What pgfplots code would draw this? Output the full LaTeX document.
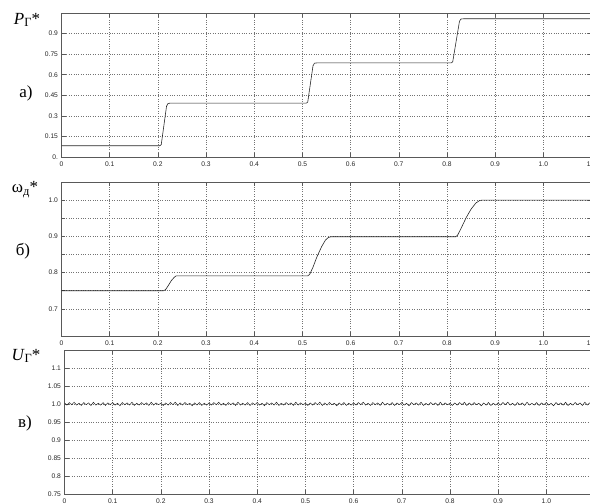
\documentclass[border=0pt]{standalone}
\usepackage{fontspec}
\setmainfont{Liberation Serif}
\newfontfamily\tickfont{Liberation Sans}
\usepackage{pgfplots}
\pgfplotsset{compat=1.18}

\pgfplotsset{mlab/.style={
  scale only axis, width=530pt,
  xmin=0, xmax=1.1,
  xtick={0,0.1,...,1.1},
  xticklabels={0,0.1,0.2,0.3,0.4,0.5,0.6,0.7,0.8,0.9,1.0,1.1},
  tick pos=both, tick align=inside, major tick length=4pt,
  axis line style={black!65, line width=0.6pt},
  tick style={black!65, line width=0.5pt},
  grid=major,
  major grid style={black!55, line width=0.5pt, dash pattern=on 0.6pt off 1.8pt},
  ticklabel style={font=\tickfont\fontsize{6.7}{7.5}\selectfont, text=black!85},
  xticklabel style={yshift=-1pt},
  /pgf/number format/assume math mode=true,
  clip=true,
}}

\begin{document}
\begin{tikzpicture}
\useasboundingbox (0pt,-504pt) rectangle (590pt,0pt);

% a) power
\begin{axis}[mlab, at={(61.5pt,-157pt)}, anchor=south west, height=144pt,
  ymin=0, ymax=1.05,
  ytick={0,0.15,0.3,0.45,0.6,0.75,0.9},
  yticklabels={0.,0.15,0.3,0.45,0.6,0.75,0.9}]
\addplot[black!85, line width=0.6pt] coordinates {
(0,0.082)(0.204,0.082)(0.207,0.09)(0.218,0.37)(0.221,0.39)(0.226,0.393)
(0.508,0.393)(0.511,0.40)(0.522,0.665)(0.525,0.684)(0.53,0.686)
(0.809,0.686)(0.812,0.695)(0.826,0.99)(0.829,1.006)(0.835,1.008)(1.1,1.008)};
\end{axis}

% b) speed
\begin{axis}[mlab, at={(61.5pt,-336pt)}, anchor=south west, height=154pt,
  ymin=0.625, ymax=1.05,
  ytick={0.7,0.75,0.8,0.85,0.9,0.95,1.0},
  yticklabels={0.7,,0.8,,0.9,,1.0}]
\addplot[black!85, line width=0.6pt] coordinates {
(0,0.75)(0.212,0.75)(0.216,0.753)(0.222,0.765)(0.228,0.778)(0.234,0.787)(0.238,0.791)(0.511,0.791)
(0.515,0.795)(0.522,0.815)(0.53,0.843)(0.54,0.872)(0.548,0.89)(0.554,0.897)(0.56,0.899)(0.818,0.899)
(0.822,0.903)(0.83,0.924)(0.84,0.952)(0.85,0.975)(0.86,0.992)(0.868,0.999)(0.873,1.0)(1.1,1.0)};
\end{axis}

% c) voltage
\begin{axis}[mlab, at={(64.5pt,-494pt)}, anchor=south west, height=144pt,
  ymin=0.75, ymax=1.15,
  ytick={0.75,0.8,0.85,0.9,0.95,1.0,1.05,1.1},
  yticklabels={0.75,0.8,0.85,0.9,0.95,1.0,1.05,1.1}]
\addplot[black!85, line width=0.5pt] coordinates {
(0.000,1.003)(0.005,0.997)(0.010,1.004)(0.015,0.998)(0.020,1.005)(0.025,0.997)(0.030,1.002)(0.035,0.996)(0.040,1.004)(0.045,0.998)
(0.050,1.003)(0.055,0.996)(0.060,1.005)(0.065,0.997)(0.070,1.002)(0.075,0.997)(0.080,1.004)(0.085,0.996)(0.090,1.003)(0.095,0.998)
(0.100,1.004)(0.105,0.997)(0.110,1.002)(0.115,0.995)(0.120,1.004)(0.125,0.998)(0.130,1.003)(0.135,0.997)(0.140,1.005)(0.145,0.996)
(0.150,1.002)(0.155,0.997)(0.160,1.004)(0.165,0.998)(0.170,1.003)(0.175,0.996)(0.180,1.005)(0.185,0.997)(0.190,1.003)(0.195,0.998)
(0.200,1.002)(0.205,0.996)(0.210,1.003)(0.215,0.997)(0.220,1.004)(0.225,0.998)(0.230,1.005)(0.235,0.996)(0.240,1.003)(0.245,0.997)
(0.250,1.004)(0.255,0.998)(0.260,1.002)(0.265,0.995)(0.270,1.003)(0.275,0.997)(0.280,1.004)(0.285,0.996)(0.290,1.002)(0.295,0.997)
(0.300,1.003)(0.305,0.997)(0.310,1.004)(0.315,0.998)(0.320,1.005)(0.325,0.997)(0.330,1.002)(0.335,0.996)(0.340,1.004)(0.345,0.998)
(0.350,1.003)(0.355,0.996)(0.360,1.005)(0.365,0.997)(0.370,1.002)(0.375,0.997)(0.380,1.004)(0.385,0.996)(0.390,1.003)(0.395,0.998)
(0.400,1.004)(0.405,0.997)(0.410,1.002)(0.415,0.995)(0.420,1.004)(0.425,0.998)(0.430,1.003)(0.435,0.997)(0.440,1.005)(0.445,0.996)
(0.450,1.002)(0.455,0.997)(0.460,1.004)(0.465,0.998)(0.470,1.003)(0.475,0.996)(0.480,1.005)(0.485,0.997)(0.490,1.003)(0.495,0.998)
(0.500,1.002)(0.505,0.996)(0.510,1.003)(0.515,0.997)(0.520,1.004)(0.525,0.998)(0.530,1.005)(0.535,0.996)(0.540,1.003)(0.545,0.997)
(0.550,1.004)(0.555,0.998)(0.560,1.002)(0.565,0.995)(0.570,1.003)(0.575,0.997)(0.580,1.004)(0.585,0.996)(0.590,1.002)(0.595,0.997)
(0.600,1.003)(0.605,0.997)(0.610,1.004)(0.615,0.998)(0.620,1.005)(0.625,0.997)(0.630,1.002)(0.635,0.996)(0.640,1.004)(0.645,0.998)
(0.650,1.003)(0.655,0.996)(0.660,1.005)(0.665,0.997)(0.670,1.002)(0.675,0.997)(0.680,1.004)(0.685,0.996)(0.690,1.003)(0.695,0.998)
(0.700,1.004)(0.705,0.997)(0.710,1.002)(0.715,0.995)(0.720,1.004)(0.725,0.998)(0.730,1.003)(0.735,0.997)(0.740,1.005)(0.745,0.996)
(0.750,1.002)(0.755,0.997)(0.760,1.004)(0.765,0.998)(0.770,1.003)(0.775,0.996)(0.780,1.005)(0.785,0.997)(0.790,1.003)(0.795,0.998)
(0.800,1.002)(0.805,0.996)(0.810,1.003)(0.815,0.997)(0.820,1.004)(0.825,0.998)(0.830,1.005)(0.835,0.996)(0.840,1.003)(0.845,0.997)
(0.850,1.004)(0.855,0.998)(0.860,1.002)(0.865,0.995)(0.870,1.003)(0.875,0.997)(0.880,1.004)(0.885,0.996)(0.890,1.002)(0.895,0.997)
(0.900,1.003)(0.905,0.997)(0.910,1.004)(0.915,0.998)(0.920,1.005)(0.925,0.997)(0.930,1.002)(0.935,0.996)(0.940,1.004)(0.945,0.998)
(0.950,1.003)(0.955,0.996)(0.960,1.005)(0.965,0.997)(0.970,1.002)(0.975,0.997)(0.980,1.004)(0.985,0.996)(0.990,1.003)(0.995,0.998)
(1.000,1.004)(1.005,0.997)(1.010,1.002)(1.015,0.995)(1.020,1.004)(1.025,0.998)(1.030,1.003)(1.035,0.997)(1.040,1.005)(1.045,0.996)
(1.050,1.002)(1.055,0.997)(1.060,1.004)(1.065,0.998)(1.070,1.003)(1.075,0.996)(1.080,1.005)(1.085,0.997)(1.090,1.003)(1.095,0.998)
(1.100,1.003)};
\end{axis}

% panel labels
\begin{scope}[every node/.style={font=\fontsize{17}{18}\selectfont, inner sep=0pt}]
\node at (27pt,-20pt) {\textit{P}\raisebox{-0.35ex}{\fontsize{12.5}{13}\selectfont Г}*};
\node at (26pt,-93pt) {а)};
\node at (25pt,-190pt) {ω\raisebox{-0.35ex}{\fontsize{12.5}{13}\selectfont д}*};
\node at (23pt,-251pt) {б)};
\node at (26pt,-356pt) {\textit{U}\raisebox{-0.35ex}{\fontsize{12.5}{13}\selectfont Г}*};
\node at (25pt,-423pt) {в)};
\end{scope}
\end{tikzpicture}
\end{document}
